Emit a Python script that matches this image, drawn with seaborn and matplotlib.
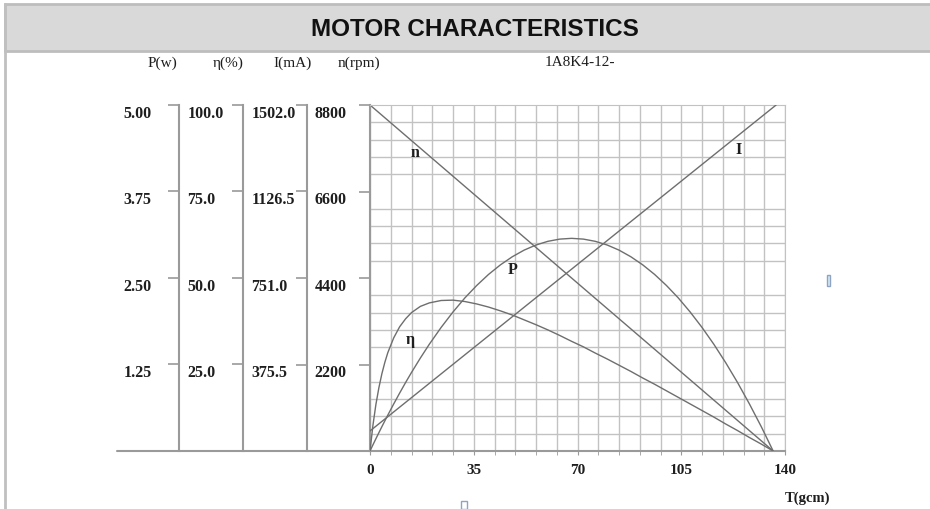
import numpy as np
import seaborn as sns
import matplotlib.pyplot as plt
from matplotlib.patches import Rectangle

# ---------------------------------- data ----------------------------------
torque_line = [0, 136]            # T (gcm)
speed = [8800, 0]                 # n (rpm)
torque_current = [0, 137]
current = [87, 1502]              # I (mA)

torque_curve = [0, 1, 2, 3, 4, 5, 6, 8, 10, 12, 14, 17, 20, 24, 28, 32, 36, 40,
                44, 48, 52, 56, 60, 64, 68, 72, 76, 80, 84, 88, 92, 96, 100, 104,
                108, 112, 116, 120, 124, 128, 132, 136]
power = [0, 0.090, 0.178, 0.265, 0.351, 0.435, 0.518, 0.680, 0.837, 0.989,
         1.135, 1.344, 1.542, 1.786, 2.009, 2.212, 2.392, 2.552, 2.690, 2.807,
         2.903, 2.977, 3.030, 3.062, 3.073, 3.062, 3.030, 2.977, 2.903, 2.807,
         2.690, 2.552, 2.392, 2.212, 2.009, 1.786, 1.542, 1.276, 0.989, 0.680,
         0.351, 0]                                                        # P (W)
efficiency = [0, 7.5, 13.5, 18.3, 22.3, 25.6, 28.4, 32.7, 35.9, 38.2, 40.0,
              41.8, 42.8, 43.5, 43.6, 43.2, 42.5, 41.6, 40.5, 39.3, 37.9, 36.5,
              35.0, 33.4, 31.7, 30.1, 28.3, 26.6, 24.8, 23.0, 21.1, 19.3, 17.4,
              15.5, 13.6, 11.7, 9.8, 7.8, 5.9, 3.9, 2.0, 0]               # eta (%)

p_ticks = [1.25, 2.50, 3.75, 5.00]
p_labels = ['1.25', '2.50', '3.75', '5.00']
eta_ticks = [25, 50, 75, 100]
eta_labels = ['25.0', '50.0', '75.0', '100.0']
i_ticks = [375.5, 751.0, 1126.5, 1502.0]
i_labels = ['375.5', '751.0', '1126.5', '1502.0']
n_ticks = [2200, 4400, 6600, 8800]
n_labels = ['2200', '4400', '6600', '8800']
t_ticks = [0, 35, 70, 105, 140]

# --------------------------------- figure ---------------------------------
sns.set_style('white')
plt.rcParams['font.family'] = ['Liberation Serif', 'DejaVu Serif']

W, H = 930, 510
fig = plt.figure(figsize=(9.3, 5.1), dpi=100)
fig.patch.set_facecolor('white')

# header band
fig.add_artist(Rectangle((5 / W, 1 - 52 / H), 1, 47 / H, transform=fig.transFigure,
                         facecolor='#d9d9d9', edgecolor='#bdbdbd', linewidth=2))
fig.add_artist(plt.Line2D([5 / W, 5 / W], [0, 1 - 5 / H], transform=fig.transFigure,
                          color='#c0c0c0', linewidth=2))
fig.text(475 / W, 1 - 30 / H, 'MOTOR CHARACTERISTICS', ha='center', va='center',
         fontsize=17.5, fontweight='bold', family=['Liberation Sans', 'DejaVu Sans'],
         color='#111111')

# small scan marks
fig.add_artist(Rectangle((461 / W, 0), 6 / W, 8 / H, transform=fig.transFigure,
                         facecolor='none', edgecolor='#8ea4c2', linewidth=1))
fig.add_artist(Rectangle((827 / W, 1 - 287 / H), 3 / W, 11 / H,
                         transform=fig.transFigure, facecolor='#d7ecf5',
                         edgecolor='#8ea4c2', linewidth=1))

# main axes (speed scale on its left spine)
x0, x1, y0, y1 = 370, 785, 106, 452
ax = fig.add_axes([x0 / W, 1 - y1 / H, (x1 - x0) / W, (y1 - y0) / H])
ax.set_facecolor('none')
ax.set_xlim(0, 140)
ax.set_ylim(0, 8800)

axis_col = '#9a9a9a'
grid_col = '#c2c2c2'
curve_col = '#6e6e6e'
text_col = '#1e1e1e'
width_px = x1 - x0

ax_i = ax.twinx()
ax_i.set_ylim(0, 1502)
ax_eta = ax.twinx()
ax_eta.set_ylim(0, 100)
ax_p = ax.twinx()
ax_p.set_ylim(0, 5)

# curves
sns.lineplot(x=torque_line, y=speed, ax=ax, color=curve_col, linewidth=1,
             estimator=None, sort=False)
sns.lineplot(x=torque_current, y=current, ax=ax_i, color=curve_col, linewidth=1,
             estimator=None, sort=False)
sns.lineplot(x=torque_curve, y=efficiency, ax=ax_eta, color=curve_col, linewidth=1,
             estimator=None, sort=False)
sns.lineplot(x=torque_curve, y=power, ax=ax_p, color=curve_col, linewidth=1,
             estimator=None, sort=False)
ax.set_xlim(0, 140)


def style_scale(a, ticks, labels, pos):
    # move the spine first: set_position rebuilds the ticks
    if a is not ax:
        for s in ['top', 'bottom']:
            a.spines[s].set_visible(False)
        a.spines['left'].set_position(('axes', (pos - x0) / width_px))
    a.spines['right'].set_visible(False)
    a.spines['left'].set_visible(True)
    a.spines['left'].set_color(axis_col)
    a.spines['left'].set_linewidth(1.5)
    a.yaxis.set_ticks_position('left')
    a.tick_params(axis='y', which='major', direction='out', length=8, pad=32,
                  color=axis_col, width=1.2, left=True, right=False)
    a.tick_params(axis='y', which='minor', length=0, left=False, right=False)
    a.set_yticks(ticks, labels=labels, ha='left', va='top', fontsize=11.5,
                 fontweight='bold', color=text_col)
    a.set_ylabel('')


style_scale(ax_i, i_ticks, i_labels, 307)
style_scale(ax_eta, eta_ticks, eta_labels, 243)
style_scale(ax_p, p_ticks, p_labels, 179)
style_scale(ax, n_ticks, n_labels, x0)

# grid and torque axis on the main axes
ax.set_yticks(np.arange(0, 8801, 440), minor=True)
ax.set_xticks(t_ticks, labels=[str(t) for t in t_ticks], fontsize=11,
              fontweight='bold', color=text_col)
ax.set_xticks(np.arange(0, 141, 7), minor=True)
ax.tick_params(axis='y', which='minor', length=0, left=False, right=False)
ax.grid(which='minor', color=grid_col, linewidth=1)
ax.grid(which='major', axis='x', color=grid_col, linewidth=1)
ax.tick_params(axis='x', which='both', direction='out', length=3, color=axis_col,
               pad=6, bottom=True)
ax.set_xlabel('')
ax.spines['right'].set_visible(True)
ax.spines['top'].set_visible(True)
ax.spines['right'].set_color(grid_col)
ax.spines['top'].set_color(grid_col)
ax.spines['bottom'].set_color(axis_col)
ax.spines['bottom'].set_linewidth(1.5)

# bottom base line running under the scales
ax.plot([(117 - x0) / width_px, 0], [0, 0], transform=ax.transAxes, clip_on=False,
        color=axis_col, linewidth=1.5)

# curve labels
ax_p.text(15.2, 4.32, 'n', fontsize=11.5, fontweight='bold', color=text_col,
          ha='center', va='center')
ax_p.text(124.2, 4.36, 'I', fontsize=11.5, fontweight='bold', color=text_col,
          ha='center', va='center')
ax_p.text(48.2, 2.63, 'P', fontsize=11.5, fontweight='bold', color=text_col,
          ha='center', va='center')
ax_p.text(13.5, 1.62, 'η', fontsize=11.5, fontweight='bold', color=text_col,
          ha='center', va='center')

# column headings and model
for label, xc in [('P(w)', 162), ('η(%)', 228), ('I(mA)', 293), ('n(rpm)', 359)]:
    fig.text(xc / W, 1 - 63 / H, label, ha='center', va='center', fontsize=11,
             color=text_col)
fig.text(545 / W, 1 - 63 / H, '1A8K4-12-', ha='left', va='center', fontsize=11,
         color=text_col)
fig.text(807 / W, 1 - 498 / H, 'T(gcm)', ha='center', va='center', fontsize=10.5,
         fontweight='bold', color=text_col)

plt.savefig('out.png', dpi=100)
